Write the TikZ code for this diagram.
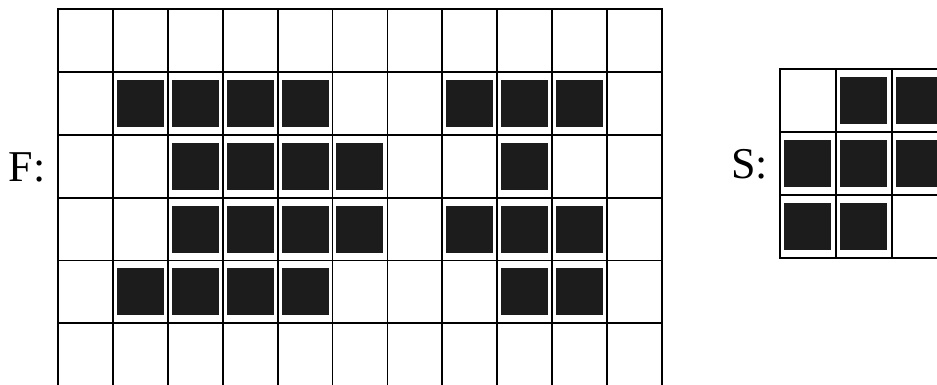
\documentclass[tikz,border=0pt]{standalone}
\usepackage{fontspec}
\setmainfont{Liberation Serif}
\usepackage{tikz}
\usetikzlibrary{positioning}
\definecolor{cellblack}{HTML}{1C1C1C}

\begin{document}
\begin{tikzpicture}[x=0.5pt,y=-0.5pt]

\tikzset{
gridlines/.style={
draw=black,
line width=0.9pt,
line cap=rect
},
blackcell/.style={
fill=cellblack,
draw=none,
inner sep=0pt,
minimum width=23.5pt,
minimum height=23.5pt
},
gridlabel/.style={
font=\fontsize{22}{26}\selectfont,
inner sep=0pt
}
}

\useasboundingbox (0,0) rectangle (937,385);

%--------------------------------------------------
% LABELS
%--------------------------------------------------

\node[gridlabel] (flabel) at (27,167) {F:};

\node[gridlabel] (slabel) at (749.5,164) {S:};

%--------------------------------------------------
% GRID F
%--------------------------------------------------

\begin{scope}[shift={(58.3,9.3)},x=27.425pt,y=-31.4pt]
\foreach \c in {1,2,3,4,7,8,9}
  \node[blackcell] at (\c+0.5,1.5) {};
\foreach \c in {2,3,4,5,8}
  \node[blackcell] at (\c+0.5,2.5) {};
\foreach \c in {2,3,4,5,7,8,9}
  \node[blackcell] at (\c+0.5,3.5) {};
\foreach \c in {1,2,3,4,8,9}
  \node[blackcell] at (\c+0.5,4.5) {};
\foreach \c in {0,...,11}
  \draw[gridlines] (\c,0) -- (\c,6);
\foreach \r in {0,...,6}
  \draw[gridlines] (0,\r) -- (11,\r);
\end{scope}

%--------------------------------------------------
% GRID S
%--------------------------------------------------

\begin{scope}[shift={(780,69.3)},x=27.9pt,y=-31.5pt]
\foreach \c in {1,2}
  \node[blackcell] at (\c+0.5,0.5) {};
\foreach \c in {0,1,2}
  \node[blackcell] at (\c+0.5,1.5) {};
\foreach \c in {0,1}
  \node[blackcell] at (\c+0.5,2.5) {};
\foreach \c in {0,...,3}
  \draw[gridlines] (\c,0) -- (\c,3);
\foreach \r in {0,...,3}
  \draw[gridlines] (0,\r) -- (3,\r);
\end{scope}

\end{tikzpicture}
\end{document}
